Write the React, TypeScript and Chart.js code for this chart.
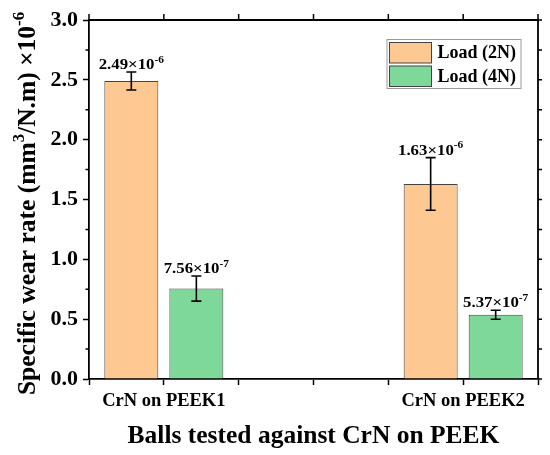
import React, { useEffect, useRef } from "react";
import { Chart, registerables } from "chart.js";

Chart.register(...registerables);

const categories = ["CrN on PEEK1", "CrN on PEEK2"];
const categoryPositions = [1, 5];
const seriesLabels = ["Load (2N)", "Load (4N)"];
const load2N = [2.49, 1.63];
const load4N = [0.756, 0.537];
const load2NErr = [0.075, 0.22];
const load4NErr = [0.105, 0.038];
const seriesColors = ["#FDC891", "#7DD89A"];
const xTitle = "Balls tested against CrN on PEEK";
const yTitleParts = [
  { t: "Specific wear rate (mm", sup: false },
  { t: "3", sup: true },
  { t: "/N.m) \u00d710", sup: false },
  { t: "-6", sup: true },
];

const FONT = "'Liberation Serif', 'Times New Roman', serif";

type Seg = { t: string; sup: boolean };

function drawRich(
  ctx: CanvasRenderingContext2D,
  segs: Seg[],
  cx: number,
  baseY: number,
  size: number,
  supScale = 0.66,
  raise = 0.42,
  stretch = 1
) {
  const supSize = size * supScale;
  let total = 0;
  const widths: number[] = [];
  for (const s of segs) {
    ctx.font = `bold ${s.sup ? supSize : size}px ${FONT}`;
    const w = ctx.measureText(s.t).width;
    widths.push(w);
    total += w;
  }
  ctx.save();
  ctx.translate(cx - (total * stretch) / 2, baseY);
  ctx.scale(stretch, 1);
  ctx.textAlign = "left";
  ctx.textBaseline = "alphabetic";
  ctx.fillStyle = "#000";
  let x = 0;
  segs.forEach((s, i) => {
    ctx.font = `bold ${s.sup ? supSize : size}px ${FONT}`;
    ctx.fillText(s.t, x, s.sup ? -size * raise : 0);
    x += widths[i];
  });
  ctx.restore();
}

function sciLabel(v: number): Seg[] {
  const [m, e] = (v * 1e-6).toExponential(2).split("e");
  return [
    { t: `${m}\u00d710`, sup: false },
    { t: String(parseInt(e, 10)), sup: true },
  ];
}

const errorsPlugin = {
  id: "errorsAndLabels",
  afterDatasetsDraw(chart: any) {
    const ctx: CanvasRenderingContext2D = chart.ctx;
    const yScale = chart.scales.y;
    const errs = [load2NErr, load4NErr];
    chart.data.datasets.forEach((ds: any, di: number) => {
      const meta = chart.getDatasetMeta(di);
      meta.data.forEach((bar: any, i: number) => {
        const v = ds.data[i].y;
        const e = errs[di][i];
        const yTop = yScale.getPixelForValue(v + e);
        const yBot = yScale.getPixelForValue(v - e);
        const x = bar.x;
        ctx.save();
        ctx.strokeStyle = "#000";
        ctx.lineWidth = 1.6;
        ctx.beginPath();
        ctx.moveTo(x, yTop);
        ctx.lineTo(x, yBot);
        ctx.moveTo(x - 5, yTop);
        ctx.lineTo(x + 5, yTop);
        ctx.moveTo(x - 5, yBot);
        ctx.lineTo(x + 5, yBot);
        ctx.stroke();
        ctx.restore();
        drawRich(ctx, sciLabel(v), x, yTop - 3, 15, 0.68, 0.42, 1.12);
      });
    });
  },
};

const framePlugin = {
  id: "frameLegendTitles",
  afterDraw(chart: any) {
    const ctx: CanvasRenderingContext2D = chart.ctx;
    const a = chart.chartArea;
    const xs = chart.scales.x;
    const ys = chart.scales.y;
    ctx.save();
    ctx.strokeStyle = "#000";
    ctx.lineWidth = 1.8;
    ctx.beginPath();
    ctx.moveTo(a.left, a.top);
    ctx.lineTo(a.right, a.top);
    ctx.lineTo(a.right, a.bottom);
    ctx.stroke();
    ctx.lineWidth = 1.5;
    ctx.beginPath();
    for (let v = xs.min; v <= xs.max + 1e-9; v += 1) {
      const px = xs.getPixelForValue(v);
      ctx.moveTo(px, a.top);
      ctx.lineTo(px, a.top - 6);
    }
    for (let v = ys.min; v <= ys.max + 1e-9; v += 0.25) {
      const py = ys.getPixelForValue(v);
      ctx.moveTo(a.right, py);
      ctx.lineTo(a.right + 4, py);
      if (Math.abs((v * 2) % 1) > 1e-6) {
        ctx.moveTo(a.left, py);
        ctx.lineTo(a.left - 3.5, py);
      }
    }
    ctx.stroke();

    // legend
    const lx = a.right - 151;
    const ly = a.top + 19.5;
    ctx.lineWidth = 1;
    ctx.strokeStyle = "#9a9a9a";
    ctx.fillStyle = "#fff";
    ctx.fillRect(lx, ly, 134, 49);
    ctx.strokeRect(lx, ly, 134, 49);
    chart.data.datasets.forEach((ds: any, i: number) => {
      const sy = ly + 3 + i * 23.5;
      ctx.fillStyle = ds.backgroundColor;
      ctx.fillRect(lx + 2.5, sy, 42, 20.5);
      ctx.strokeStyle = "#444";
      ctx.strokeRect(lx + 2.5, sy, 42, 20.5);
      ctx.fillStyle = "#000";
      ctx.font = `bold 18px ${FONT}`;
      ctx.textAlign = "left";
      ctx.textBaseline = "middle";
      ctx.fillText(ds.label, lx + 50.5, sy + 11);
    });

    // x title
    ctx.fillStyle = "#000";
    ctx.font = `bold 25.5px ${FONT}`;
    ctx.textAlign = "center";
    ctx.textBaseline = "alphabetic";
    ctx.fillText(xTitle, (a.left + a.right) / 2, 443);

    // y title
    ctx.translate(35, (a.top + a.bottom) / 2 + 4);
    ctx.rotate(-Math.PI / 2);
    drawRich(ctx, yTitleParts, 0, 0, 25.5, 0.66, 0.42, 1);
    ctx.restore();
  },
};

export default function App() {
  const ref = useRef<HTMLCanvasElement | null>(null);
  useEffect(() => {
    document.body.style.margin = "0";
    const canvas = ref.current;
    if (!canvas) return;
    const mk = (vals: number[]) => vals.map((y, i) => ({ x: categoryPositions[i], y }));
    const chart = new Chart(canvas, {
      type: "bar",
      data: {
        datasets: [
          {
            label: seriesLabels[0],
            data: mk(load2N),
            backgroundColor: seriesColors[0],
            borderColor: "#444",
            borderWidth: 1,
          },
          {
            label: seriesLabels[1],
            data: mk(load4N),
            backgroundColor: seriesColors[1],
            borderColor: "#444",
            borderWidth: 1,
          },
        ],
      } as any,
      options: {
        animation: false,
        responsive: false,
        devicePixelRatio: 1,
        categoryPercentage: 1.738,
        barPercentage: 0.83,
        layout: { padding: { top: 20, right: 12, left: 0, bottom: 0 } },
        plugins: { legend: { display: false }, tooltip: { enabled: false } },
        scales: {
          x: {
            type: "linear",
            min: 0,
            max: 6,
            offset: false,
            grid: {
              offset: false,
              drawOnChartArea: false,
              drawTicks: true,
              tickLength: 6,
              tickColor: "#000",
              tickWidth: 1.5,
            },
            border: { display: true, color: "#000", width: 1.8 },
            ticks: {
              stepSize: 1,
              autoSkip: false,
              maxRotation: 0,
              padding: 5,
              color: "#000",
              font: { family: FONT, size: 18.5, weight: "bold" },
              callback: (value: any) => {
                const i = categoryPositions.indexOf(Number(value));
                return i >= 0 ? categories[i] : "";
              },
            },
            afterFit: (s: any) => {
              s.height = 76;
            },
          },
          y: {
            min: 0,
            max: 3,
            grid: {
              drawOnChartArea: false,
              drawTicks: true,
              tickLength: 6,
              tickColor: "#000",
              tickWidth: 1.5,
            },
            border: { display: true, color: "#000", width: 1.8 },
            ticks: {
              stepSize: 0.5,
              padding: 5,
              color: "#000",
              font: { family: FONT, size: 22, weight: "bold" },
              callback: (value: any) => Number(value).toFixed(1),
            },
            afterFit: (s: any) => {
              s.width = 89;
            },
          },
        },
      } as any,
      plugins: [errorsPlugin, framePlugin],
    });
    return () => chart.destroy();
  }, []);
  return (
    <div style={{ width: 550, height: 455 }}>
      <canvas ref={ref} width={550} height={455} />
    </div>
  );
}
